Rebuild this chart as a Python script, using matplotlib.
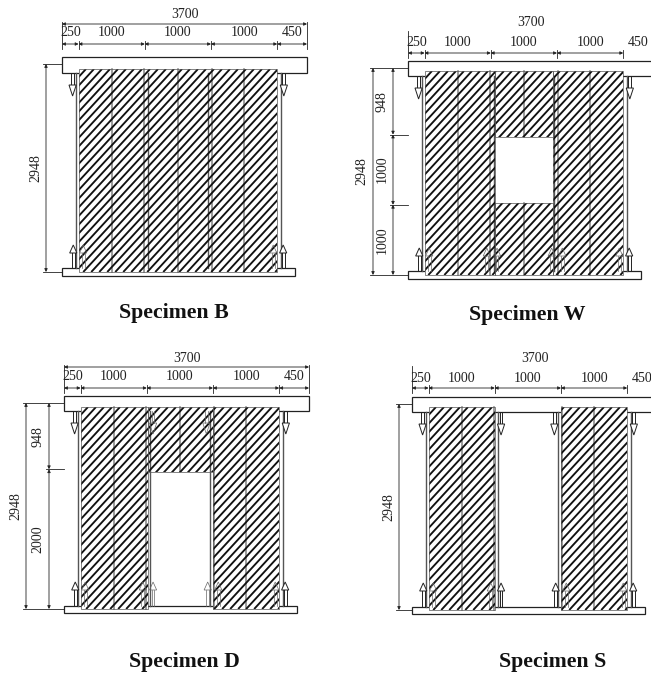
import matplotlib
matplotlib.use("Agg")
import matplotlib.pyplot as plt
from matplotlib.collections import LineCollection
from matplotlib.patches import Polygon, Rectangle

plt.rcParams['font.family'] = ['Liberation Serif', 'DejaVu Serif']

# dimensions in mm, as written on the drawings
bay_widths = [250, 1000, 1000, 1000, 450]
total_width = 3700
total_height = 2948
bottom_beam_width = 3520
stud_lines = [750, 1750, 2750]
column_lines = [205, 1300, 2205, 3310]
inner_lines = [1240, 2260]

# wall pieces: x from, x to, y from, y to (y measured down from the top)
walls_b = [(250, 3250, 0, 2948)]
walls_w = [(250, 1310, 0, 2948), (2190, 3250, 0, 2948),
           (1310, 2190, 0, 985), (1310, 2190, 1925, 2948)]
walls_d = [(250, 1270, 0, 2948), (2250, 3250, 0, 2948), (1270, 2250, 0, 985)]
walls_s = [(250, 1250, 0, 2948), (2250, 3250, 0, 2948)]

# vertical dimension chains beside the wall
chain_w = [948, 1000, 1000]
chain_d = [948, 2000]

# arrow positions along the wall, mm
top_outer = [160, 3350]
top_all = [160, 1345, 2150, 3350]
bottom_ends = [170, 320, 3190, 3340]
bottom_all = [170, 320, 1190, 1345, 2170, 2330, 3190, 3340]

INK = '#222222'
GREY = '#808080'


def dim_arrow(ax, p0, p1):
    ax.annotate('', xy=p1, xytext=p0,
                arrowprops=dict(arrowstyle='<|-|>', mutation_scale=4.5, lw=0.6,
                                color=INK, shrinkA=0, shrinkB=0))


def draw_arrow(ax, x, y_start, y_base, y_tip, inside):
    # open triangle head on a double line shaft, faint where it sits over the hatch
    col = '#666666' if inside else INK
    lw = 0.5 if inside else 0.7
    ax.plot([x - 1.4, x - 1.4], [y_start, y_base], color=col, lw=lw, zorder=5)
    ax.plot([x + 1.4, x + 1.4], [y_start, y_base], color=col, lw=lw, zorder=5)
    ax.add_patch(Polygon([(x - 3.6, y_base), (x + 3.6, y_base), (x, y_tip)],
                         facecolor='none' if inside else 'white',
                         edgecolor=col, lw=lw, zorder=5))


def draw_specimen(ax, left, beam_top, beam_bot, wall_top, wall_bot, base_top, base_bot,
                  dim_top, dim_sub, text_top, text_sub, top_ref, walls, arrows_top,
                  arrows_bottom, dim_x, dim_text_x, chain, chain_x, chain_text_x, title, title_xy):
    sx = 245 / total_width
    sy = (wall_bot - top_ref) / total_height
    xmap = lambda mm: left + mm * sx
    ymap = lambda mm: top_ref + mm * sy

    # beams
    ax.add_patch(Rectangle((left, beam_top), total_width * sx, beam_bot - beam_top,
                           facecolor='white', edgecolor=INK, lw=0.9, zorder=1))
    ax.add_patch(Rectangle((left, base_top), bottom_beam_width * sx, base_bot - base_top,
                           facecolor='white', edgecolor=INK, lw=0.9, zorder=1))

    # walls: white ground, stud lines, diagonal hatch
    for x0, x1, y0, y1 in walls:
        top = wall_top if y0 == 0 else ymap(y0)
        bot = ymap(y1)
        rect = Rectangle((xmap(x0), top), (x1 - x0) * sx, bot - top,
                         facecolor='white', edgecolor='none', zorder=2)
        ax.add_patch(rect)
        for mm in stud_lines + inner_lines:
            if x0 < mm < x1:
                ax.plot([xmap(mm)] * 2, [top, bot], color=GREY, lw=1.1, zorder=3)
        segs = []
        run = 0.92 * (wall_bot - wall_top)
        c = xmap(0) - run
        while c < xmap(total_width):
            segs.append([(c, wall_bot), (c + run, wall_top)])
            c += 8.0
        hatch = LineCollection(segs, colors='#111111', linewidths=1.35, zorder=4)
        ax.add_collection(hatch)
        hatch.set_clip_path(rect)
        edge = Rectangle((xmap(x0), top), (x1 - x0) * sx, bot - top,
                         facecolor='none', edgecolor='#555555', lw=0.5, zorder=4.5)
        ax.add_patch(edge)

    # columns run between the beams
    for mm in column_lines:
        ax.plot([xmap(mm)] * 2, [beam_bot, base_top], color='#555555', lw=1.0, zorder=3)

    # load arrows
    for mm in arrows_top:
        inside = any(x0 < mm < x1 for x0, x1, y0, y1 in walls)
        draw_arrow(ax, xmap(mm), beam_bot, beam_bot + 12, beam_bot + 23, inside)
    for mm in arrows_bottom:
        inside = any(x0 < mm < x1 for x0, x1, y0, y1 in walls)
        draw_arrow(ax, xmap(mm), base_top, wall_bot - 19, wall_bot - 27, inside)

    # horizontal dimensions
    dim_arrow(ax, (xmap(0), dim_top), (xmap(total_width), dim_top))
    ax.text(xmap(total_width / 2), text_top, str(total_width), ha='center', va='center',
            fontsize=10, color=INK)
    pos = 0
    ax.plot([xmap(0)] * 2, [dim_top - 2, dim_sub + 5], color=INK, lw=0.6)
    for w in bay_widths:
        dim_arrow(ax, (xmap(pos), dim_sub), (xmap(pos + w), dim_sub))
        ax.text(xmap(pos + w / 2), text_sub, str(w), ha='center', va='center',
                fontsize=10, color=INK)
        pos += w
        top_tick = dim_top - 2 if pos == total_width else dim_sub - 3
        ax.plot([xmap(pos)] * 2, [top_tick, dim_sub + 5], color=INK, lw=0.6)

    # vertical dimensions
    ax.plot([dim_x - 3, left], [ymap(0)] * 2, color=INK, lw=0.6)
    ax.plot([dim_x - 3, left], [wall_bot] * 2, color=INK, lw=0.6)
    dim_arrow(ax, (dim_x, ymap(0)), (dim_x, wall_bot))
    ax.text(dim_text_x, (ymap(0) + wall_bot) / 2, str(total_height), rotation=90,
            ha='center', va='center', fontsize=10, color=INK)
    pos = 0
    for h in chain:
        dim_arrow(ax, (chain_x, ymap(pos)), (chain_x, ymap(pos + h)))
        ax.text(chain_text_x, ymap(pos + h / 2), str(h), rotation=90,
                ha='center', va='center', fontsize=10, color=INK)
        pos += h
        if pos < total_height - 1:
            ax.plot([chain_x - 3, chain_x + 15], [ymap(pos)] * 2, color=INK, lw=0.6)

    ax.text(title_xy[0], title_xy[1], title, ha='center', va='center', fontsize=15.7,
            fontweight='bold', color='#111111')


fig = plt.figure(figsize=(6.51, 6.77), dpi=100)
ax = fig.add_axes([0, 0, 1, 1])
ax.set_xlim(0, 651)
ax.set_ylim(677, 0)
ax.axis('off')

draw_specimen(ax, 62, 57, 73, 69, 272, 268, 276, 24, 44, 14, 33, 64, walls_b,
              top_outer, bottom_ends, 46, 36, [], None, None, 'Specimen B', (174, 313))
draw_specimen(ax, 408, 61, 76, 71, 275, 271, 279, 33, 53, 23, 42, 68, walls_w,
              top_outer, bottom_all, 373, 362, chain_w, 393, 382, 'Specimen W', (527, 315))
draw_specimen(ax, 64, 396, 411, 407, 609, 606, 613, 367, 388, 358, 376, 403, walls_d,
              top_all, bottom_all, 26, 16, chain_d, 49, 38, 'Specimen D', (184, 662))
draw_specimen(ax, 412, 397, 412, 407, 610, 607, 614, 368, 388, 358, 378, 404, walls_s,
              top_all, bottom_all, 399, 389, [], None, None, 'Specimen S', (553, 662))

fig.savefig('out.png', dpi=100)
